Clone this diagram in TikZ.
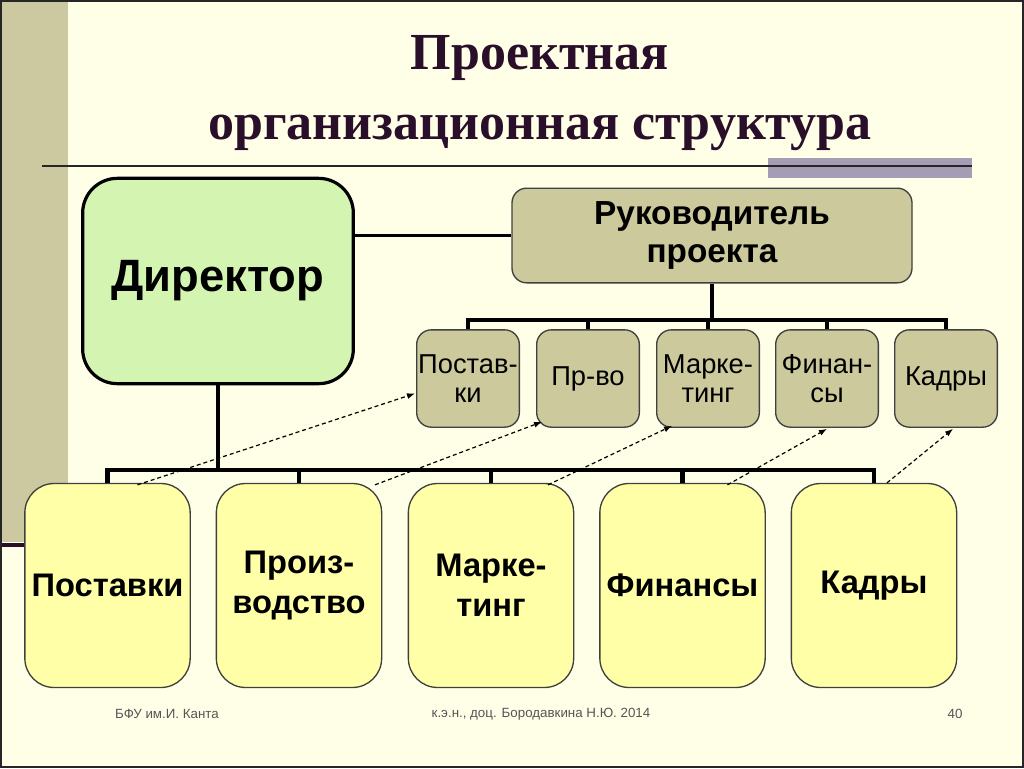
\documentclass[tikz,border=0pt]{standalone}
\usepackage{fontspec}
\setmainfont{Liberation Sans}
\newfontfamily\titlefont{Liberation Serif}
\usetikzlibrary{arrows.meta,calc}
\definecolor{bgc}{HTML}{FFFFE8}
\definecolor{stripc}{HTML}{CCC8A0}
\definecolor{barc}{HTML}{A49DB3}
\definecolor{titlec}{HTML}{2A0F2A}
\definecolor{dirc}{HTML}{D4F5B2}
\definecolor{olivec}{HTML}{CCC99C}
\definecolor{yelc}{HTML}{FFFFA8}
\definecolor{footc}{HTML}{555555}
\tikzset{
  dirbox/.style={draw=black,line width=2.4pt,fill=dirc,rounded corners=26pt,minimum width=203pt,minimum height=154pt,inner sep=0pt,align=center,font=\fontsize{34}{38}\selectfont\bfseries},
  headbox/.style={draw=black!75,line width=1pt,fill=olivec,rounded corners=11pt,minimum width=300pt,minimum height=71pt,inner sep=0pt,align=center,font=\fontsize{25}{29}\selectfont\bfseries},
  smallbox/.style={draw=black!75,line width=1pt,fill=olivec,rounded corners=11pt,minimum width=77pt,minimum height=73pt,inner sep=0pt,align=center,font=\fontsize{20.5}{22}\selectfont},
  botbox/.style={draw=black!75,line width=1pt,fill=yelc,rounded corners=22pt,minimum width=124pt,minimum height=153pt,inner sep=0pt,align=center,font=\fontsize{24.5}{30}\selectfont\bfseries},
  tree/.style={line width=3.6pt,black},
  link/.style={line width=1.6pt,black},
  dasharrow/.style={black,line width=0.9pt,dash pattern=on 3pt off 2.2pt,-{Latex[length=6pt,width=4.5pt]}},
  foot/.style={text=footc,font=\fontsize{10}{12}\selectfont,inner sep=0pt},
}
\begin{document}
\begin{tikzpicture}[x=0.75pt,y=-0.75pt]
\useasboundingbox (0,0) rectangle (1024,768);
% background
\fill[bgc] (0,0) rectangle (1024,768);
\fill[stripc] (0,0) rectangle (68,542);
\fill[titlec] (0,543) rectangle (26,547);
\draw[black!85,line width=1.5pt] (1,1) rectangle (1023,767);
% title
\node[text=titlec,font=\titlefont\bfseries\fontsize{39}{52}\selectfont,align=center] (title) at (540,93) {Проектная\\организационная структура};
\fill[barc] (768,158) rectangle (972,178);
\draw[black!85,line width=1.2pt] (42,166) -- (972,166);
% main boxes
\node[dirbox] (dir) at (218,281) {Директор};
\node[headbox] (head) at (712,235.5) {Руководитель\\проекта};
% small boxes
\node[smallbox] (s1) at (468,378.5) {Постав-\\ки};
\node[smallbox] (s2) at (588,378.5) {Пр-во};
\node[smallbox] (s3) at (708,378.5) {Марке-\\тинг};
\node[smallbox] (s4) at (827,378.5) {Финан-\\сы};
\node[smallbox] (s5) at (946,378.5) {Кадры};
% bottom boxes
\node[botbox] (b1) at (107.5,585.5) {Поставки};
\node[botbox] (b2) at (299,585.5) {Произ-\\водство};
\node[botbox] (b3) at (491,585.5) {Марке-\\тинг};
\node[botbox] (b4) at (682.5,585.5) {Финансы};
\node[botbox] (b5) at (874,585.5) {Кадры};
% connectors
\coordinate (busT) at (712,320);
\coordinate (busB) at (218,470);
\draw[link] (dir.east |- head.west) -- (head.west);
\draw[tree] (head.south) -- (busT);
\draw[tree] (s1.north) -- (s1.north |- busT) -- (s5.north |- busT) -- (s5.north);
\foreach \n in {s2,s3,s4} \draw[tree] (\n.north) -- (\n.north |- busT);
\draw[tree] (dir.south) -- (busB);
\draw[tree] (b1.north) -- (b1.north |- busB) -- (b5.north |- busB) -- (b5.north);
\foreach \n in {b2,b3,b4} \draw[tree] (\n.north) -- (\n.north |- busB);
% dashed arrows
\draw[dasharrow] ($(b1.north)+(30,2)$) -- ($(s1.west)+(-1,15)$);
\draw[dasharrow] ($(b2.north)+(76,2)$) -- ($(s2.south west)+(6,-6)$);
\draw[dasharrow] ($(b3.north)+(57,2)$) -- ($(s3.south west)+(16,-2)$);
\draw[dasharrow] ($(b4.north)+(45,2)$) -- ($(s4.south)+(0,1)$);
\draw[dasharrow] ($(b5.north)+(13,0)$) -- ($(s5.south)+(7,1)$);
% footer
\node[foot] (f1) at (167,714) {БФУ им.И. Канта};
\node[foot] (f2) at (541,714) {к.э.н., доц. Бородавкина Н.Ю. 2014};
\node[foot] (f3) at (955,714) {40};
\end{tikzpicture}
\end{document}
